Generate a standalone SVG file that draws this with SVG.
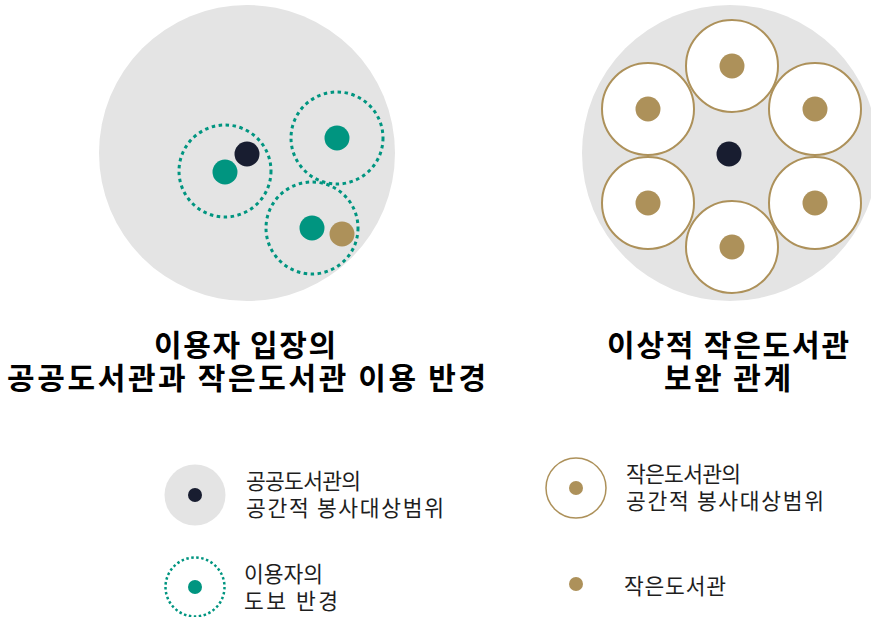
<svg xmlns="http://www.w3.org/2000/svg" width="871" height="617" viewBox="0 0 871 617">
<style>
.bg{fill:#e4e4e4}
.dark{fill:#181d30}
.teal{fill:#009580}
.tan{fill:#ad915a}
.walk{fill:none;stroke:#009580;stroke-width:3;stroke-dasharray:3.5 3.5}
.walk-s{fill:none;stroke:#009580;stroke-width:2.5;stroke-dasharray:2.5 2.5}
.ring{fill:#fff;stroke:#ad915a;stroke-width:2}
.ring-s{fill:#fff;stroke:#ad915a;stroke-width:1.5}
.title{font-family:"Noto Sans CJK KR","Noto Sans",sans-serif;font-weight:bold;font-size:30px;fill:#000}
.lbl{font-family:"Noto Sans CJK KR","Noto Sans",sans-serif;font-size:21.5px;fill:#1e1e1e}
</style>
<rect width="871" height="617" fill="#fff"/>

<g id="left-panel">
  <circle class="bg" cx="247" cy="153" r="148"/>
  <circle class="walk" cx="225" cy="171" r="46"/>
  <circle class="walk" cx="337" cy="138" r="46"/>
  <circle class="walk" cx="312" cy="228" r="46"/>
  <circle class="dark" cx="247" cy="154" r="12.5"/>
  <circle class="teal" cx="225" cy="172" r="12.5"/>
  <circle class="teal" cx="337" cy="138" r="12.5"/>
  <circle class="teal" cx="312" cy="228" r="12.5"/>
  <circle class="tan" cx="342" cy="234" r="12.5"/>
</g>

<g id="right-panel">
  <circle class="bg" cx="730" cy="153" r="148"/>
  <circle class="ring" cx="732" cy="66" r="46"/>
  <circle class="ring" cx="648" cy="109" r="46"/>
  <circle class="ring" cx="815" cy="109" r="46"/>
  <circle class="ring" cx="648" cy="203" r="46"/>
  <circle class="ring" cx="815" cy="203" r="46"/>
  <circle class="ring" cx="732" cy="247" r="46"/>
  <circle class="tan" cx="732" cy="66" r="12.5"/>
  <circle class="tan" cx="648" cy="109" r="12.5"/>
  <circle class="tan" cx="815" cy="109" r="12.5"/>
  <circle class="tan" cx="648" cy="203" r="12.5"/>
  <circle class="tan" cx="815" cy="203" r="12.5"/>
  <circle class="tan" cx="732" cy="247" r="12.5"/>
  <circle class="dark" cx="729" cy="154" r="12.5"/>
</g>

<g id="title-left">
  <text class="title" x="154" y="356" textLength="182" lengthAdjust="spacing">이용자 입장의</text>
  <text class="title" x="7" y="389" textLength="479" lengthAdjust="spacing">공공도서관과 작은도서관 이용 반경</text>
</g>
<g id="title-right">
  <text class="title" x="607" y="356" textLength="242" lengthAdjust="spacing">이상적 작은도서관</text>
  <text class="title" x="664" y="389" textLength="127" lengthAdjust="spacing">보완 관계</text>
</g>

<g id="legend-public">
  <circle class="bg" cx="195" cy="495" r="30.5"/>
  <circle class="dark" cx="195" cy="495" r="7"/>
  <text class="lbl" x="246" y="489" textLength="115" lengthAdjust="spacing">공공도서관의</text>
  <text class="lbl" x="246" y="516" textLength="198" lengthAdjust="spacing">공간적 봉사대상범위</text>
</g>
<g id="legend-walk">
  <circle class="walk-s" cx="195" cy="587" r="29.5"/>
  <circle class="teal" cx="195" cy="587" r="7"/>
  <text class="lbl" x="244" y="582" textLength="79" lengthAdjust="spacing">이용자의</text>
  <text class="lbl" x="244" y="609" textLength="94" lengthAdjust="spacing">도보 반경</text>
</g>
<g id="legend-small-range">
  <circle class="ring-s" cx="576" cy="488" r="30"/>
  <circle class="tan" cx="576" cy="488" r="7"/>
  <text class="lbl" x="626" y="482" textLength="115" lengthAdjust="spacing">작은도서관의</text>
  <text class="lbl" x="626" y="509" textLength="198" lengthAdjust="spacing">공간적 봉사대상범위</text>
</g>
<g id="legend-small">
  <circle class="tan" cx="576" cy="584" r="7"/>
  <text class="lbl" x="624" y="594" textLength="102" lengthAdjust="spacing">작은도서관</text>
</g>
</svg>
